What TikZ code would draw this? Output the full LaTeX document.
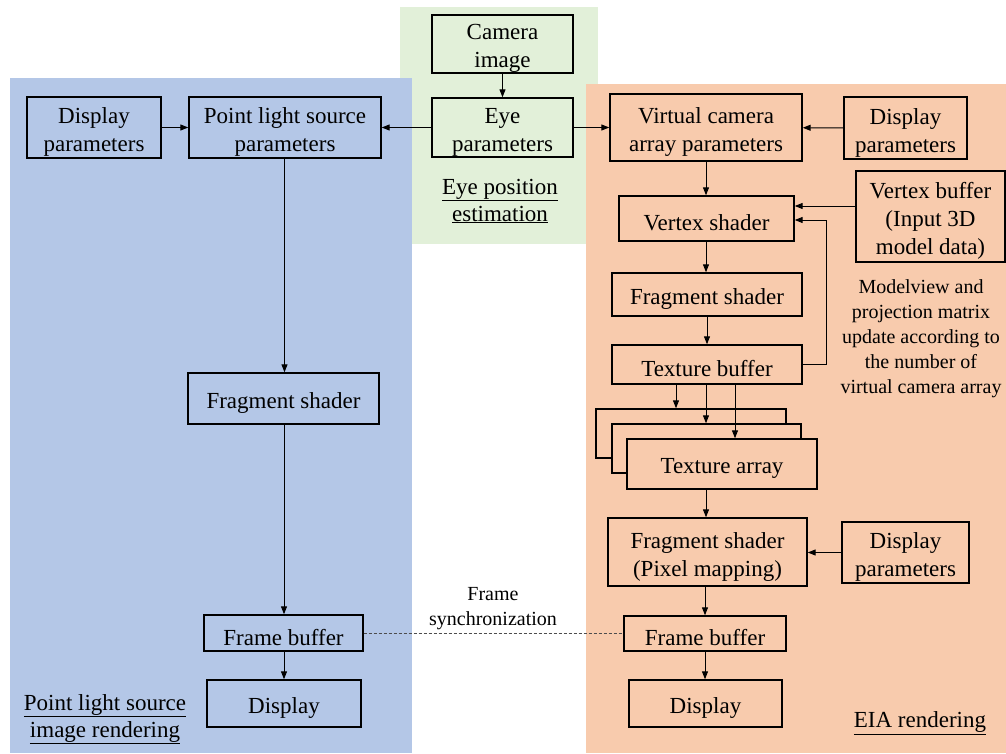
\documentclass[tikz,border=0pt]{standalone}
\usepackage{fontspec}
\setmainfont{Liberation Serif}
\usetikzlibrary{arrows.meta,calc}
\definecolor{bluebg}{HTML}{B4C7E7}
\definecolor{greenbg}{HTML}{E2F0D9}
\definecolor{orangebg}{HTML}{F8CBAD}
\begin{document}
\begin{tikzpicture}[x=1pt,y=-1pt,
  box/.style={draw=black,line width=1.4pt,inner sep=0pt},
  txt/.style={align=center,inner sep=0pt,yshift=-4.5pt,font=\fontsize{23}{28}\selectfont},
  arr/.style={line width=1pt,-{Triangle[length=8pt,width=6pt]}},
  lbl/.style={align=center,font=\fontsize{23}{27}\selectfont},
  note/.style={align=center,font=\fontsize{20}{25}\selectfont}]
\useasboundingbox (0,0) rectangle (1006,753);
% backgrounds
\fill[greenbg] (400,7) rectangle (598,244);
\fill[bluebg] (10,78) rectangle (412,753);
\fill[orangebg] (586,84) rectangle (1006,753);
% eye estimation
\node[box,fill=greenbg,minimum width=141pt,minimum height=58pt,label={[txt]center:Camera\\image}] (cam) at (502.5,44) {};
\node[box,fill=greenbg,minimum width=141pt,minimum height=59pt,label={[txt]center:Eye\\parameters}] (eye) at (502.5,127.5) {};
\node[lbl] (eyelbl) at (500,201) {\underline{Eye position}\\\underline{estimation}};
% left column
\node[box,fill=bluebg,minimum width=134pt,minimum height=61pt,label={[txt]center:Display\\parameters}] (dpl) at (94,127.5) {};
\node[box,fill=bluebg,minimum width=192pt,minimum height=61pt,label={[txt]center:Point light source\\parameters}] (pls) at (285,127.5) {};
\node[box,fill=bluebg,minimum width=191pt,minimum height=51pt,label={[txt]center:Fragment shader}] (fsl) at (283.5,398.5) {};
\node[box,fill=bluebg,minimum width=159pt,minimum height=36pt,label={[txt]center:Frame buffer}] (fbl) at (283.5,633) {};
\node[box,fill=bluebg,minimum width=154pt,minimum height=47pt,label={[txt]center:Display}] (disl) at (284,703.5) {};
\node[lbl] (plslbl) at (105,719) {\underline{Point light source}\\\underline{image rendering}};
% right column
\node[box,fill=orangebg,minimum width=192pt,minimum height=67pt,label={[txt]center:Virtual camera\\array parameters}] (vca) at (706,127.5) {};
\node[box,fill=orangebg,minimum width=123pt,minimum height=62pt,label={[txt]center:Display\\parameters}] (dpr) at (905.5,128) {};
\node[box,fill=orangebg,minimum width=175pt,minimum height=45pt,label={[txt]center:Vertex shader}] (vs) at (706.5,218.5) {};
\node[box,fill=orangebg,minimum width=149pt,minimum height=91pt,label={[txt]center:Vertex buffer\\(Input 3D\\model data)}] (vb) at (930.5,216.5) {};
\node[box,fill=orangebg,minimum width=190pt,minimum height=43pt,label={[txt]center:Fragment shader}] (fsr) at (707,294.5) {};
\node[box,fill=orangebg,minimum width=190pt,minimum height=39pt,label={[txt]center:Texture buffer}] (tb) at (707,364.5) {};
\node[note] (mv) at (921,339) {Modelview and\\projection matrix\\update according to\\the number of\\virtual camera array};
\node[box,fill=orangebg,minimum width=190pt,minimum height=49pt] (ta1) at (691,433.5) {};
\node[box,fill=orangebg,minimum width=189pt,minimum height=49pt] (ta2) at (706.5,448.5) {};
\node[box,fill=orangebg,minimum width=190pt,minimum height=50pt,label={[txt]center:Texture array}] (ta3) at (722,464) {};
\node[box,fill=orangebg,minimum width=199pt,minimum height=68pt,label={[txt]center:Fragment shader\\(Pixel mapping)}] (pm) at (707.5,552) {};
\node[box,fill=orangebg,minimum width=127pt,minimum height=61pt,label={[txt]center:Display\\parameters}] (dpr2) at (905.5,552.5) {};
\node[box,fill=orangebg,minimum width=162pt,minimum height=35pt,label={[txt]center:Frame buffer}] (fbr) at (705,633.5) {};
\node[box,fill=orangebg,minimum width=153pt,minimum height=47pt,label={[txt]center:Display}] (disr) at (705.5,703.5) {};
\node[lbl] (eialbl) at (920,723) {\underline{EIA rendering}};
\node[note] (sync) at (493,609) {Frame\\synchronization};
% connectors
\draw[arr] (cam) -- (eye);
\draw[arr] (dpl) -- (pls);
\draw[arr] (eye) -- (pls);
\draw[arr] (eye) -- (vca);
\draw[arr] (dpr) -- (vca);
\draw[arr] ([xshift=-0.5pt]pls.south) -- ([xshift=-0.5pt]pls.south |- fsl.north);
\draw[arr] ([xshift=0.5pt]fsl.south) -- ([xshift=0.5pt]fsl.south |- fbl.north);
\draw[arr] ([xshift=0.5pt]fbl.south) -- ([xshift=0.5pt]fbl.south |- disl.north);
\draw[arr] (vca.south) -- (vca.south |- vs.north);
\draw[arr] ([yshift=10.5pt]vb.west) -- ([yshift=10.5pt]vb.west -| vs.east);
\draw[arr] (vs.south -| vca.south) -- (vca.south |- fsr.north);
\draw[arr] (fsr.south) -- (tb.north);
\draw[arr] (tb.east) -- ++(24pt,0) |- ([yshift=-1.5pt]vs.east);
\draw[arr] ([xshift=-31pt]tb.south) -- ([xshift=-31pt]tb.south |- ta1.north);
\draw[arr] ([xshift=-1pt]tb.south) -- ([xshift=-1pt]tb.south |- ta2.north);
\draw[arr] ([xshift=28pt]tb.south) -- ([xshift=28pt]tb.south |- ta3.north);
\draw[arr] ([xshift=-1.5pt]pm.north |- ta3.south) -- ([xshift=-1.5pt]pm.north);
\draw[arr] (dpr2.west) -- (dpr2.west -| pm.east);
\draw[arr] ([xshift=-2.5pt]pm.south) -- ([xshift=-2.5pt]pm.south |- fbr.north);
\draw[arr] (fbr.south) -- (fbr.south |- disr.north);
\draw[line width=0.9pt,black!70,dash pattern=on 3pt off 2pt] (fbl.east) -- (fbl.east -| fbr.west);
\end{tikzpicture}
\end{document}
